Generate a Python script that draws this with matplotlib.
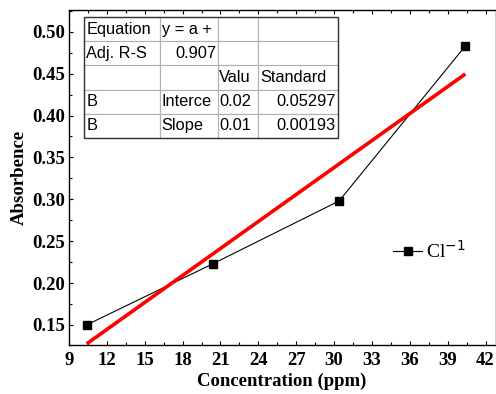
import numpy as np
import matplotlib.pyplot as plt
from matplotlib.ticker import MultipleLocator

# data
conc = [10.4, 20.4, 30.4, 40.4]
absorb = [0.150, 0.223, 0.298, 0.483]

table_rows = [
    ["Equation", "y = a +", "", ""],
    ["Adj. R-S", "0.907", "", ""],
    ["", "", "Valu", "Standard"],
    ["B", "Interce", "0.02", "0.05297"],
    ["B", "Slope", "0.01", "0.00193"],
]
right_cells = {(1, 1), (3, 3), (4, 3)}

fig = plt.figure(figsize=(4.96, 3.94), dpi=100)
ax = fig.add_axes([69 / 496, 49 / 394, 426 / 496, 335 / 394])

ax.plot(conc, absorb, color="black", lw=0.8, marker="s", ms=5.5, label="Cl$^{-1}$")

slope, icpt = np.polyfit(conc, absorb, 1)
xf = np.array([conc[0], conc[-1]])
ax.plot(xf, icpt + slope * xf, color="red", lw=2.6, solid_capstyle="butt")

ax.set_xlim(9, 42.75)
ax.set_ylim(0.126, 0.526)
ax.xaxis.set_minor_locator(MultipleLocator(1.5))
ax.yaxis.set_major_locator(MultipleLocator(0.05))
ax.yaxis.set_minor_locator(MultipleLocator(0.025))
ax.set_xticks(np.arange(9, 43, 3))
ax.tick_params(which="both", direction="in", top=True, right=False, width=0.8)
ax.tick_params(which="major", length=3)
ax.tick_params(which="minor", length=2)
ax.tick_params(axis="x", pad=5)
ax.tick_params(axis="y", pad=3)
ax.yaxis.set_major_formatter(plt.FormatStrFormatter("%.2f"))
for lab in ax.get_xticklabels() + ax.get_yticklabels():
    lab.set_fontfamily("Liberation Serif")
    lab.set_fontweight("bold")
    lab.set_fontsize(13.5)

ax.spines["right"].set_color("#d0d0d0")
for s in ["left", "top", "bottom"]:
    ax.spines[s].set_linewidth(1.0)

ax.set_xlabel("Concentration (ppm)", fontfamily="Liberation Serif",
              fontweight="bold", fontsize=13.5, labelpad=3)
ax.set_ylabel("Absorbence", fontfamily="Liberation Serif",
              fontweight="bold", fontsize=13.5, labelpad=3)

leg = ax.legend(loc="center left", bbox_to_anchor=(0.72, 0.28), frameon=False,
                handlelength=1.5, handletextpad=0.2,
                prop={"family": "Liberation Serif", "size": 14})

left, right, top, bottom = (84 - 69) / 426, (338 - 69) / 426, (345 - 17) / 335, (345 - 138) / 335
tb = ax.table(cellText=table_rows, colWidths=[76, 58, 40, 80],
              bbox=[left, bottom, right - left, top - bottom], zorder=5)
tb.auto_set_font_size(False)
for (r, c), cell in tb.get_celld().items():
    cell.set_edgecolor("#b0b0b0")
    cell.set_linewidth(0.8)
    cell.get_text().set_fontfamily("Liberation Sans")
    cell.get_text().set_fontsize(11.8)
    cell.set_text_props(ha="right" if (r, c) in right_cells else "left")
    cell.PAD = 0.03
ax.add_patch(plt.Rectangle((left, bottom), right - left, top - bottom,
                           transform=ax.transAxes, fill=False, ec="#333333",
                           lw=1.0, zorder=6))

fig.savefig("out.png", dpi=100)
